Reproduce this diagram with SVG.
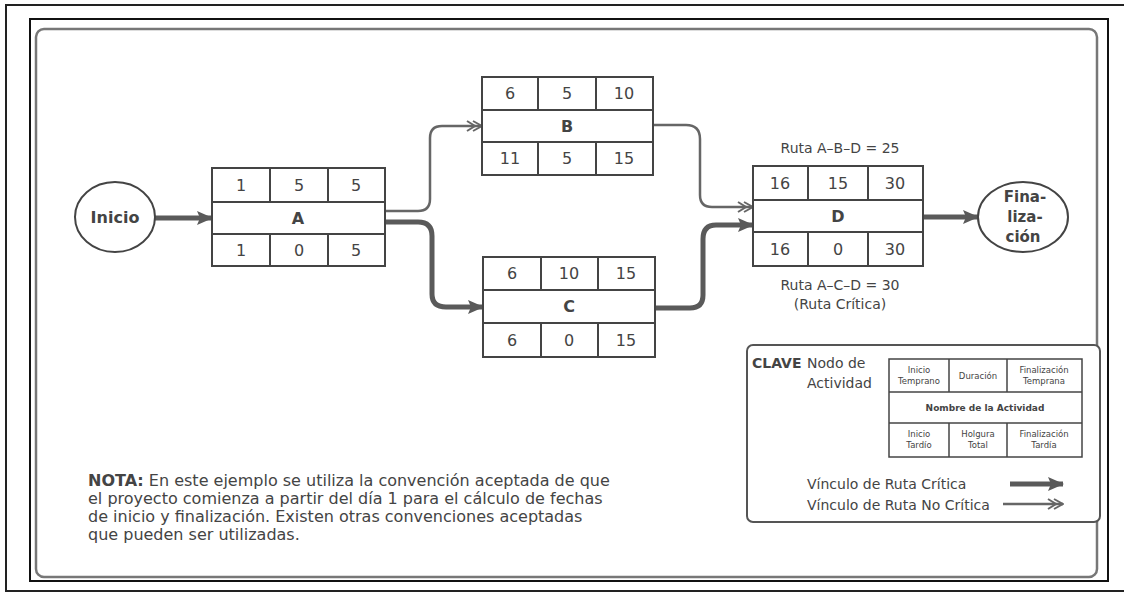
<svg xmlns="http://www.w3.org/2000/svg" width="1124" height="596" viewBox="0 0 1124 596">
<defs>
<style>
.cell{fill:#fff;stroke:#444;stroke-width:2}
.num{font-family:"DejaVu Sans",Verdana,sans-serif;font-size:16px;fill:#444;text-anchor:middle}
.name{font-family:"DejaVu Sans",Verdana,sans-serif;font-size:16px;font-weight:bold;fill:#444;text-anchor:middle}
.lbl{font-family:"DejaVu Sans",Verdana,sans-serif;font-size:14px;fill:#444;text-anchor:middle}
.txt{font-family:"DejaVu Sans",Verdana,sans-serif;font-size:14px;fill:#444}
.nota{font-family:"DejaVu Sans",Verdana,sans-serif;font-size:16px;fill:#444}
.tiny{font-family:"DejaVu Sans",Verdana,sans-serif;font-size:8.5px;fill:#444;text-anchor:middle}
.crit{fill:none;stroke:#5a5a5a;stroke-width:5}
.nonc{fill:none;stroke:#666;stroke-width:2.5}
.ell{fill:#fff;stroke:#444;stroke-width:2}
</style>
<marker id="ah" markerUnits="userSpaceOnUse" viewBox="0 0 16 14" refX="15" refY="7" markerWidth="16" markerHeight="14" orient="auto">
<path d="M0,0 L16,7 L0,14 L3,7 z" fill="#5a5a5a"/>
</marker>
<marker id="ao" markerUnits="userSpaceOnUse" viewBox="0 0 18 12" refX="17" refY="6" markerWidth="18" markerHeight="12" orient="auto">
<path d="M2,1 L10,6 L2,11 M8,1 L17,6 L8,11" fill="none" stroke="#666" stroke-width="2"/>
</marker>
</defs>
<rect width="1124" height="596" fill="#fff"/>
<!-- frames -->
<rect x="6" y="5" width="1130" height="586" fill="none" stroke="#222" stroke-width="2"/>
<rect x="30" y="19" width="1078" height="562" fill="none" stroke="#111" stroke-width="2"/>
<rect x="36" y="29" width="1061" height="548" rx="8" fill="none" stroke="#777" stroke-width="2.5"/>

<g id="connectors">
<line x1="155" y1="218" x2="212" y2="218" class="crit" marker-end="url(#ah)"/>
<path d="M385,211 H418 Q430,211 430,199 V138 Q430,126 442,126 H482" class="nonc" marker-end="url(#ao)"/>
<path d="M385,222 H418 Q432,222 432,236 V294 Q432,307 446,307 H483" class="crit" marker-end="url(#ah)"/>
<path d="M653,125 H686 Q700,125 700,139 V195 Q700,207 712,207 H753" class="nonc" marker-end="url(#ao)"/>
<path d="M655,308 H690 Q703,308 703,295 V239 Q703,225 716,225 H753" class="crit" marker-end="url(#ah)"/>
<line x1="923" y1="217" x2="978" y2="217" class="crit" marker-end="url(#ah)"/>
</g>

<g id="inicio">
<ellipse cx="115" cy="217" rx="40" ry="35" class="ell"/>
<text x="115" y="223" class="name">Inicio</text>
</g>

<g id="node-a">
<rect x="212" y="168" width="173" height="98" class="cell"/>
<line x1="212" y1="202" x2="385" y2="202" class="cell"/>
<line x1="212" y1="234" x2="385" y2="234" class="cell"/>
<line x1="270" y1="168" x2="270" y2="202" class="cell"/>
<line x1="328" y1="168" x2="328" y2="202" class="cell"/>
<line x1="270" y1="234" x2="270" y2="266" class="cell"/>
<line x1="328" y1="234" x2="328" y2="266" class="cell"/>
<text x="241" y="191" class="num">1</text><text x="299" y="191" class="num">5</text><text x="356" y="191" class="num">5</text>
<text x="298" y="224" class="name">A</text>
<text x="241" y="256" class="num">1</text><text x="299" y="256" class="num">0</text><text x="356" y="256" class="num">5</text>
</g>

<g id="node-b">
<rect x="482" y="77" width="171" height="98" class="cell"/>
<line x1="482" y1="110" x2="653" y2="110" class="cell"/>
<line x1="482" y1="142" x2="653" y2="142" class="cell"/>
<line x1="538" y1="77" x2="538" y2="110" class="cell"/>
<line x1="596" y1="77" x2="596" y2="110" class="cell"/>
<line x1="538" y1="142" x2="538" y2="175" class="cell"/>
<line x1="596" y1="142" x2="596" y2="175" class="cell"/>
<text x="510" y="99" class="num">6</text><text x="567" y="99" class="num">5</text><text x="624" y="99" class="num">10</text>
<text x="567" y="132" class="name">B</text>
<text x="510" y="164" class="num">11</text><text x="567" y="164" class="num">5</text><text x="624" y="164" class="num">15</text>
</g>

<g id="node-c">
<rect x="483" y="257" width="172" height="100" class="cell"/>
<line x1="483" y1="290" x2="655" y2="290" class="cell"/>
<line x1="483" y1="323" x2="655" y2="323" class="cell"/>
<line x1="541" y1="257" x2="541" y2="290" class="cell"/>
<line x1="598" y1="257" x2="598" y2="290" class="cell"/>
<line x1="541" y1="323" x2="541" y2="357" class="cell"/>
<line x1="598" y1="323" x2="598" y2="357" class="cell"/>
<text x="512" y="279" class="num">6</text><text x="569" y="279" class="num">10</text><text x="626" y="279" class="num">15</text>
<text x="569" y="312" class="name">C</text>
<text x="512" y="346" class="num">6</text><text x="569" y="346" class="num">0</text><text x="626" y="346" class="num">15</text>
</g>

<g id="node-d">
<rect x="753" y="166" width="170" height="100" class="cell"/>
<line x1="753" y1="200" x2="923" y2="200" class="cell"/>
<line x1="753" y1="232" x2="923" y2="232" class="cell"/>
<line x1="808" y1="166" x2="808" y2="200" class="cell"/>
<line x1="868" y1="166" x2="868" y2="200" class="cell"/>
<line x1="808" y1="232" x2="808" y2="266" class="cell"/>
<line x1="868" y1="232" x2="868" y2="266" class="cell"/>
<text x="780" y="189" class="num">16</text><text x="838" y="189" class="num">15</text><text x="895" y="189" class="num">30</text>
<text x="838" y="222" class="name">D</text>
<text x="780" y="255" class="num">16</text><text x="838" y="255" class="num">0</text><text x="895" y="255" class="num">30</text>
</g>

<g id="finalizacion">
<ellipse cx="1023" cy="217" rx="45" ry="35" class="ell"/>
<text x="1025" y="202" class="name" style="font-size:15px">Fina-</text>
<text x="1025" y="222" class="name" style="font-size:15px">liza-</text>
<text x="1023" y="242" class="name" style="font-size:15px">ción</text>
</g>

<g id="route-labels">
<text x="840" y="153" class="lbl">Ruta A–B–D = 25</text>
<text x="840" y="290" class="lbl">Ruta A–C–D = 30</text>
<text x="840" y="309" class="lbl">(Ruta Crítica)</text>
</g>

<g id="legend">
<rect x="747" y="345" width="353" height="177" rx="6" fill="#fff" stroke="#555" stroke-width="2"/>
<text x="752" y="368" class="txt" style="font-weight:bold">CLAVE</text>
<text x="807" y="368" class="txt">Nodo de</text>
<text x="807" y="388" class="txt">Actividad</text>
<rect x="889" y="359" width="193" height="98" fill="#fff" stroke="#444" stroke-width="1.5"/>
<line x1="889" y1="392" x2="1082" y2="392" stroke="#444" stroke-width="1.5"/>
<line x1="889" y1="423" x2="1082" y2="423" stroke="#444" stroke-width="1.5"/>
<line x1="949" y1="359" x2="949" y2="392" stroke="#444" stroke-width="1.5"/>
<line x1="1007" y1="359" x2="1007" y2="392" stroke="#444" stroke-width="1.5"/>
<line x1="949" y1="423" x2="949" y2="457" stroke="#444" stroke-width="1.5"/>
<line x1="1007" y1="423" x2="1007" y2="457" stroke="#444" stroke-width="1.5"/>
<text x="919" y="373" class="tiny">Inicio</text><text x="919" y="384" class="tiny">Temprano</text>
<text x="978" y="379" class="tiny">Duración</text>
<text x="1044" y="373" class="tiny">Finalización</text><text x="1044" y="384" class="tiny">Temprana</text>
<text x="985" y="411" class="tiny" style="font-weight:bold;font-size:9px">Nombre de la Actividad</text>
<text x="919" y="437" class="tiny">Inicio</text><text x="919" y="448" class="tiny">Tardío</text>
<text x="978" y="437" class="tiny">Holgura</text><text x="978" y="448" class="tiny">Total</text>
<text x="1044" y="437" class="tiny">Finalización</text><text x="1044" y="448" class="tiny">Tardía</text>
<text x="807" y="489" class="txt">Vínculo de Ruta Crítica</text>
<text x="807" y="510" class="txt">Vínculo de Ruta No Crítica</text>
<line x1="1010" y1="484" x2="1063" y2="484" class="crit" marker-end="url(#ah)"/>
<line x1="1003" y1="504" x2="1063" y2="504" class="nonc" marker-end="url(#ao)"/>
</g>

<g id="nota">
<text x="88" y="486" class="nota"><tspan font-weight="bold">NOTA:</tspan> En este ejemplo se utiliza la convención aceptada de que</text>
<text x="88" y="504" class="nota">el proyecto comienza a partir del día 1 para el cálculo de fechas</text>
<text x="88" y="522" class="nota">de inicio y finalización. Existen otras convenciones aceptadas</text>
<text x="88" y="540" class="nota">que pueden ser utilizadas.</text>
</g>
</svg>
